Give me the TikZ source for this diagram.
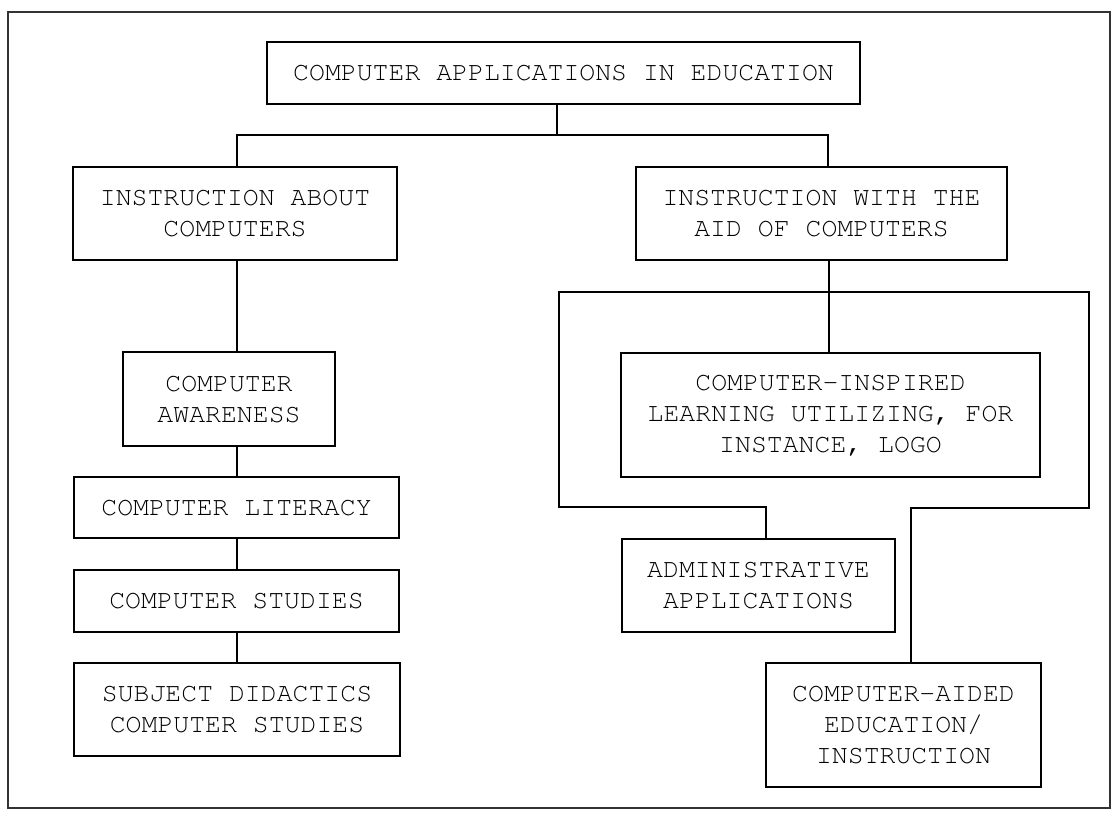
\documentclass[tikz,border=0pt]{standalone}
\usepackage[T1]{fontenc}
\usepackage{courier}
\usetikzlibrary{calc}
\tikzset{
  chartbox/.style={draw, line width=1.5pt, inner sep=0pt, align=center,
    font=\ttfamily\fontsize{26.5}{31}\selectfont},
  link/.style={line width=1.5pt}
}

\begin{document}
\begin{tikzpicture} [x=1pt, y=-1pt]
\useasboundingbox (0,0) rectangle (1115,813);
\draw[line width=1.2pt, black!80] (8,12) rectangle (1110,808);

\node[chartbox, minimum width=593, minimum height=62] (apps) at (563.5,73) {COMPUTER APPLICATIONS IN EDUCATION};
\node[chartbox, minimum width=324, minimum height=93] (about) at (235,213.5) {INSTRUCTION ABOUT\\COMPUTERS};
\node[chartbox, minimum width=371, minimum height=93] (aid) at (821.5,213.5) {INSTRUCTION WITH THE\\AID OF COMPUTERS};

% left column
\node[chartbox, minimum width=212, minimum height=94] (aware) at (229,399) {COMPUTER\\AWARENESS};
\node[chartbox, minimum width=325, minimum height=61] (literacy) at (236.5,507.5) {COMPUTER LITERACY};
\node[chartbox, minimum width=325, minimum height=62] (studies) at (236.5,601) {COMPUTER STUDIES};
\node[chartbox, minimum width=326, minimum height=93] (didactics) at (237,709.5) {SUBJECT DIDACTICS\\COMPUTER STUDIES};

% right column
\node[chartbox, minimum width=419, minimum height=124] (inspired) at (830.5,415) {COMPUTER-INSPIRED\\LEARNING UTILIZING, FOR\\INSTANCE, LOGO};
\node[chartbox, minimum width=273, minimum height=93] (admin) at (758.5,585.5) {ADMINISTRATIVE\\APPLICATIONS};
\node[chartbox, minimum width=275, minimum height=124] (aided) at (903.5,725) {COMPUTER-AIDED\\EDUCATION/\\INSTRUCTION};

% connectors
\coordinate (hub) at (557,135);
\coordinate (spine) at (237,0);
\draw[link] (apps.south -| hub) -- (hub);
\draw[link] (about.north -| spine) |- (hub) -| ([xshift=6.5]aid.north);
\foreach \a/\b in {about/aware, aware/literacy, literacy/studies, studies/didactics}
  \draw[link] (\a.south -| spine) -- (\b.north -| spine);

\coordinate (bracketL) at (559,292);
\coordinate (bracketR) at (1089,292);
\draw[link] ([xshift=7.5]aid.south) -- ([xshift=7.5]aid.south |- inspired.north);
\draw[link] ([xshift=7.5]admin.north) |- (bracketL |- 0,507) -- (bracketL) -- (bracketR)
  -- (bracketR |- 0,508) -| ([xshift=7.5]aided.north);
\end{tikzpicture}
\end{document}
